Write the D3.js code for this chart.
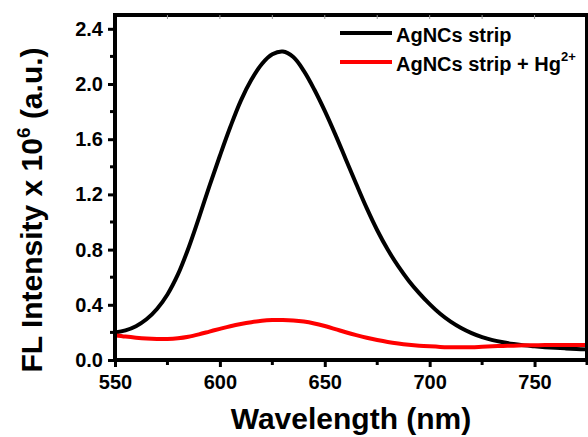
<!DOCTYPE html>
<html>
<head>
<meta charset="utf-8">
<script src="https://cdn.jsdelivr.net/npm/d3@7"></script>
<style>
  body { margin: 0; background: #fff; }
  svg { display: block; font-family: "Liberation Sans", Arial, sans-serif; font-weight: bold; }
</style>
</head>
<body>
<svg id="chart" width="588" height="437"></svg>
<script>
// ---- data ----
const wavelengths = [550,555,560,565,570,575,580,585,590,595,600,605,610,615,620,625,630,635,640,645,650,655,660,665,670,675,680,685,690,695,700,705,710,715,720,725,730,735,740,745,750,755,760,765,770,775];
const agncs =       [0.20,0.215,0.245,0.295,0.37,0.475,0.62,0.81,1.03,1.26,1.48,1.69,1.88,2.03,2.145,2.215,2.235,2.195,2.095,1.96,1.805,1.635,1.455,1.275,1.10,0.94,0.80,0.68,0.575,0.485,0.405,0.335,0.278,0.232,0.195,0.166,0.144,0.128,0.116,0.106,0.099,0.093,0.088,0.084,0.080,0.077];
const agncsHg =     [0.18,0.17,0.162,0.156,0.153,0.153,0.158,0.169,0.186,0.206,0.226,0.245,0.261,0.274,0.284,0.289,0.29,0.287,0.279,0.265,0.246,0.224,0.201,0.18,0.161,0.145,0.131,0.12,0.111,0.104,0.099,0.095,0.093,0.092,0.093,0.096,0.099,0.102,0.104,0.106,0.107,0.108,0.108,0.108,0.108,0.108];
const seriesNames = ["AgNCs strip", "AgNCs strip + Hg"];
const seriesColors = ["#000000", "#ff0000"];
const xTicks = [550,600,650,700,750];
const xMinor = [575,625,675,725,775];
const yTicks = [0.0,0.4,0.8,1.2,1.6,2.0,2.4];
const yMinor = [0.2,0.6,1.0,1.4,1.8,2.2];

// ---- layout ----
const L = 115, R = 587, T = 15, B = 360;
const svg = d3.select("#chart");
const x = d3.scaleLinear().domain([550, 775]).range([L, R]);
const y = d3.scaleLinear().domain([0, 2.5]).range([B, T]);

// curves
const line = d3.line().x(d => x(d[0])).y(d => y(d[1])).curve(d3.curveCatmullRom);
const series = [agncs, agncsHg];
series.forEach((vals, i) => {
  svg.append("path")
    .datum(wavelengths.map((w, j) => [w, vals[j]]))
    .attr("fill", "none")
    .attr("stroke", seriesColors[i])
    .attr("stroke-width", 4)
    .attr("stroke-linejoin", "round")
    .attr("d", line);
});

// frame
svg.append("rect").attr("x", L).attr("y", T).attr("width", R - L).attr("height", B - T)
  .attr("fill", "none").attr("stroke", "#000").attr("stroke-width", 4);

// top faint ticks
svg.append("g").selectAll("line").data(xTicks.concat(xMinor).filter(v => v > 550 && v < 775)).join("line")
  .attr("x1", d => x(d)).attr("x2", d => x(d)).attr("y1", T).attr("y2", T + 4)
  .attr("stroke", "#999").attr("stroke-width", 1);

const fontFam = "Liberation Sans, Arial, sans-serif";

// bottom axis
const xAxis = d3.axisBottom(x).tickValues(xTicks).tickSize(7).tickPadding(8).tickFormat(d3.format("d"));
const gx = svg.append("g").attr("transform", `translate(0,${B})`).call(xAxis);
gx.select(".domain").remove();
gx.selectAll(".tick line").attr("stroke-width", 3);
gx.selectAll(".tick text").attr("font-size", 20).attr("font-weight", "bold").attr("fill", "#000")
  .attr("font-family", fontFam);
svg.append("g").selectAll("line").data(xMinor).join("line")
  .attr("x1", d => x(d)).attr("x2", d => x(d)).attr("y1", B).attr("y2", B + 5)
  .attr("stroke", "#000").attr("stroke-width", 3);

// left axis
const yAxis = d3.axisLeft(y).tickValues(yTicks).tickSize(7).tickPadding(5).tickFormat(d3.format(".1f"));
const gy = svg.append("g").attr("transform", `translate(${L},0)`).call(yAxis);
gy.select(".domain").remove();
gy.selectAll(".tick line").attr("stroke-width", 3);
gy.selectAll(".tick text").attr("font-size", 20).attr("font-weight", "bold").attr("fill", "#000")
  .attr("font-family", fontFam);
svg.append("g").selectAll("line").data(yMinor).join("line")
  .attr("x1", L).attr("x2", L - 5).attr("y1", d => y(d)).attr("y2", d => y(d))
  .attr("stroke", "#000").attr("stroke-width", 3);

// axis titles
svg.append("text").attr("x", 351).attr("y", 429).attr("text-anchor", "middle")
  .attr("font-size", 30).text("Wavelength (nm)");

const yt = svg.append("text").attr("transform", "translate(42,210) rotate(-90)")
  .attr("text-anchor", "middle").attr("font-size", 30);
yt.append("tspan").text("FL Intensity x 10");
yt.append("tspan").attr("font-size", 19).attr("dy", -12).text("6");
yt.append("tspan").attr("dy", 12).text(" (a.u.)");

// legend
const legY = [33, 62];
seriesNames.forEach((name, i) => {
  svg.append("line").attr("x1", 340).attr("x2", 392).attr("y1", legY[i]).attr("y2", legY[i])
    .attr("stroke", seriesColors[i]).attr("stroke-width", 4);
  const t = svg.append("text").attr("x", 396).attr("y", legY[i] + 9).attr("font-size", 20).text(name);
  if (i === 1) {
    t.append("tspan").attr("font-size", 13).attr("dy", -10).text("2+");
  }
});
</script>
</body>
</html>
